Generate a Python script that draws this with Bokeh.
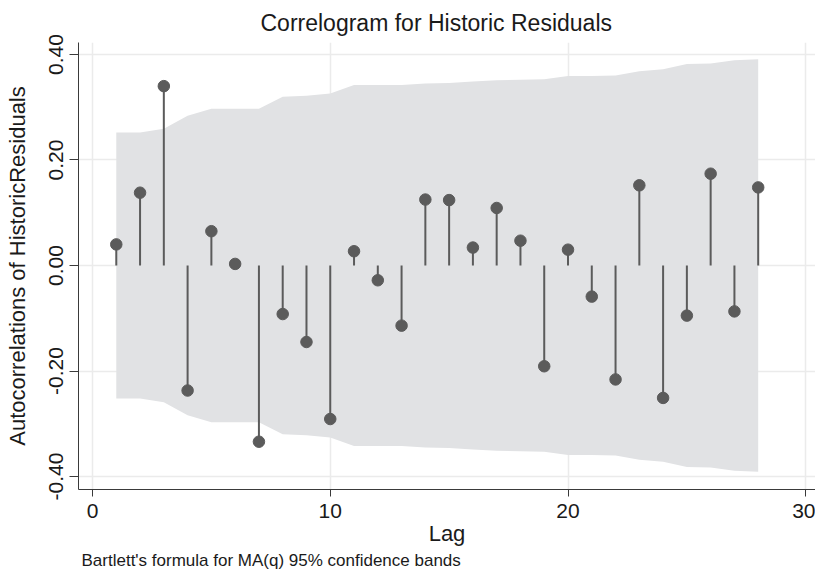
from bokeh.plotting import figure
from bokeh.models import Range1d, FixedTicker, ColumnDataSource, Title
from bokeh.embed import file_html
from bokeh.resources import INLINE

lags = list(range(1, 29))
acf = [0.040, 0.138, 0.340, -0.237, 0.065, 0.003, -0.334, -0.092, -0.145, -0.291,
       0.027, -0.028, -0.114, 0.125, 0.124, 0.034, 0.109, 0.047, -0.191, 0.030,
       -0.059, -0.216, 0.152, -0.251, -0.095, 0.174, -0.087, 0.148]
band = [0.252, 0.252, 0.259, 0.284, 0.297, 0.297, 0.297, 0.320, 0.322, 0.326,
        0.342, 0.342, 0.342, 0.345, 0.346, 0.349, 0.351, 0.352, 0.353, 0.359,
        0.359, 0.360, 0.368, 0.372, 0.382, 0.383, 0.389, 0.391]
x_ticks = [0, 10, 20, 30]
y_ticks = [-0.4, -0.2, 0.0, 0.2, 0.4]
y_tick_labels = ["-0.40", "-0.20", "0.00", "0.20", "0.40"]

FONT = "Liberation Sans"
DARK = "#5b5b5b"
TXT = "#1a1a1a"

src = ColumnDataSource(dict(lag=lags, acf=acf, zero=[0] * len(lags),
                            upper=band, lower=[-b for b in band]))

p = figure(width=815, height=569, output_backend="svg", toolbar_location=None,
           x_range=Range1d(-0.589, 30.41), y_range=Range1d(-0.4246, 0.4227),
           min_border_left=78, min_border_right=0, min_border_top=42, min_border_bottom=80)
p.outline_line_color = None
p.background_fill_color = "white"

p.varea(x="lag", y1="lower", y2="upper", source=src, fill_color="#e1e2e4")
p.segment(x0="lag", y0="zero", x1="lag", y1="acf", source=src, line_color=DARK, line_width=2)
p.scatter(x="lag", y="acf", source=src, size=11.5, fill_color=DARK, line_color=DARK)

p.xaxis.ticker = FixedTicker(ticks=x_ticks)
p.yaxis.ticker = FixedTicker(ticks=y_ticks)
p.yaxis.major_label_overrides = {t: l for t, l in zip(y_ticks, y_tick_labels)}
p.xgrid.ticker = FixedTicker(ticks=x_ticks)
p.ygrid.ticker = FixedTicker(ticks=y_ticks)
for g in (p.xgrid, p.ygrid):
    g.grid_line_color = "#ebebeb"
    g.grid_line_width = 1.5

for ax in (p.xaxis, p.yaxis):
    ax.axis_line_color = "#3a3a3a"
    ax.major_tick_line_color = "#3a3a3a"
    ax.minor_tick_line_color = None
    ax.major_tick_in = 0
    ax.major_label_text_font = FONT
    ax.major_label_text_font_size = "21px"
    ax.major_label_text_color = TXT
    ax.axis_label_text_font = FONT
    ax.axis_label_text_font_size = "22px"
    ax.axis_label_text_font_style = "normal"
    ax.axis_label_text_color = TXT

p.yaxis.major_tick_out = 9
p.xaxis.major_tick_out = 7
p.yaxis.major_label_orientation = "vertical"
p.yaxis.major_label_standoff = 6
p.xaxis.major_label_standoff = 7
p.yaxis.axis_label = "Autocorrelations of HistoricResiduals"
p.xaxis.axis_label = "Lag"
p.yaxis.axis_label_standoff = 17
p.xaxis.axis_label_standoff = 0

p.title.text = "Correlogram for Historic Residuals"
p.title.text_font = FONT
p.title.text_font_size = "23px"
p.title.text_font_style = "normal"
p.title.text_color = TXT
p.title.align = "left"
p.title.offset = 182
p.title.standoff = 14

foot = Title(text="Bartlett's formula for MA(q) 95% confidence bands", align="left",
             text_font=FONT, text_font_size="17px", text_font_style="normal",
             text_color=TXT, offset=3, standoff=0)
p.add_layout(foot, "below")

open("out.html", "w").write(file_html(p, INLINE))
